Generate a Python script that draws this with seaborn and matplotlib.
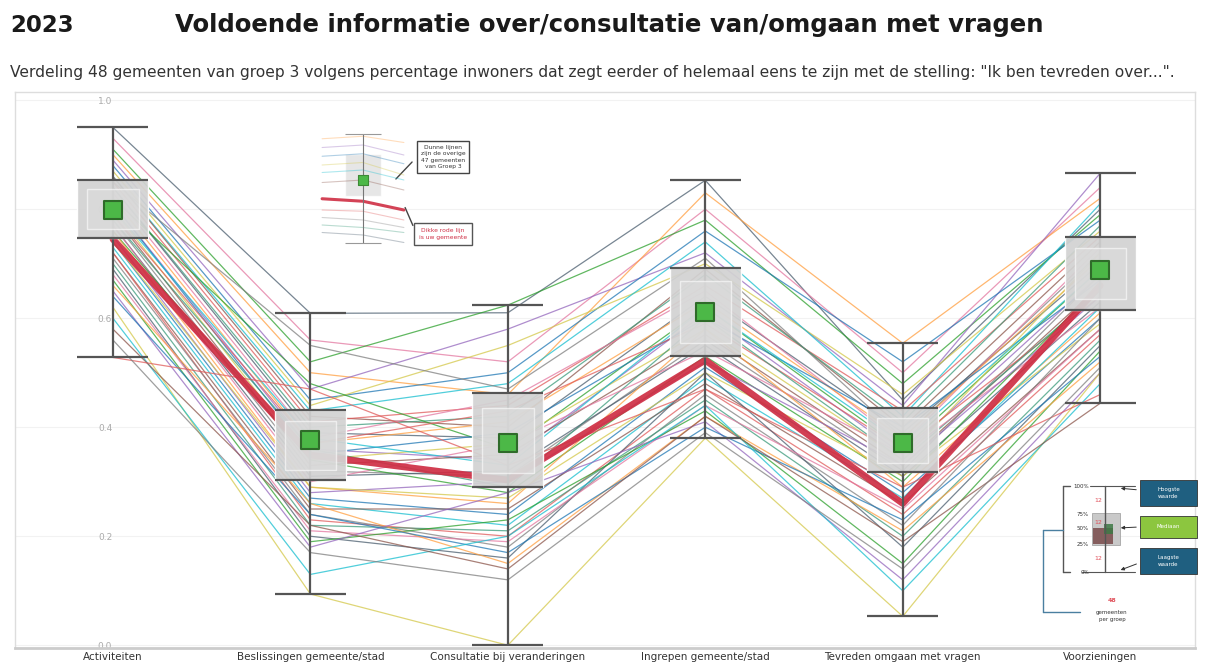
import numpy as np
import pandas as pd
import seaborn as sns
import matplotlib.pyplot as plt
from matplotlib.patches import Rectangle

# categorieen op de x-as
categorieen = ["Activiteiten", "Beslissingen gemeente/stad", "Consultatie bij veranderingen",
               "Ingrepen gemeente/stad", "Tevreden omgaan met vragen", "Voorzieningen"]

# dikke rode lijn (eigen gemeente)
eigen_gemeente = [0.745, 0.349, 0.303, 0.523, 0.26, 0.66]

# de overige 47 gemeenten van groep 3 (geschat uit de figuur)
overige = [
    [0.95, 0.609, 0.61, 0.853, 0.45, 0.80],
    [0.93, 0.56, 0.52, 0.80, 0.50, 0.84],
    [0.91, 0.52, 0.624, 0.78, 0.48, 0.79],
    [0.90, 0.50, 0.46, 0.83, 0.554, 0.82],
    [0.89, 0.47, 0.58, 0.72, 0.44, 0.866],
    [0.88, 0.45, 0.50, 0.76, 0.52, 0.78],
    [0.87, 0.44, 0.55, 0.70, 0.46, 0.76],
    [0.86, 0.43, 0.48, 0.74, 0.42, 0.81],
    [0.86, 0.42, 0.40, 0.69, 0.40, 0.74],
    [0.85, 0.41, 0.44, 0.66, 0.43, 0.75],
    [0.85, 0.55, 0.47, 0.71, 0.38, 0.72],
    [0.84, 0.40, 0.42, 0.68, 0.41, 0.77],
    [0.84, 0.39, 0.38, 0.64, 0.39, 0.70],
    [0.83, 0.38, 0.45, 0.65, 0.37, 0.73],
    [0.82, 0.48, 0.36, 0.62, 0.36, 0.69],
    [0.82, 0.37, 0.41, 0.63, 0.38, 0.71],
    [0.81, 0.36, 0.34, 0.61, 0.35, 0.68],
    [0.81, 0.35, 0.39, 0.60, 0.40, 0.67],
    [0.80, 0.34, 0.37, 0.58, 0.34, 0.72],
    [0.80, 0.38, 0.33, 0.62, 0.37, 0.69],
    [0.79, 0.33, 0.35, 0.57, 0.33, 0.66],
    [0.79, 0.37, 0.43, 0.59, 0.36, 0.64],
    [0.78, 0.32, 0.31, 0.56, 0.32, 0.68],
    [0.78, 0.36, 0.29, 0.60, 0.34, 0.65],
    [0.77, 0.31, 0.32, 0.55, 0.31, 0.63],
    [0.77, 0.30, 0.37, 0.54, 0.35, 0.62],
    [0.76, 0.34, 0.28, 0.53, 0.30, 0.66],
    [0.76, 0.29, 0.26, 0.58, 0.29, 0.61],
    [0.75, 0.28, 0.30, 0.52, 0.33, 0.64],
    [0.74, 0.27, 0.24, 0.51, 0.28, 0.60],
    [0.74, 0.29, 0.27, 0.50, 0.31, 0.59],
    [0.73, 0.26, 0.22, 0.49, 0.27, 0.62],
    [0.72, 0.25, 0.25, 0.48, 0.26, 0.58],
    [0.72, 0.23, 0.20, 0.47, 0.24, 0.57],
    [0.71, 0.24, 0.18, 0.46, 0.22, 0.60],
    [0.70, 0.22, 0.21, 0.45, 0.20, 0.56],
    [0.69, 0.20, 0.16, 0.50, 0.18, 0.55],
    [0.68, 0.21, 0.19, 0.44, 0.25, 0.58],
    [0.67, 0.19, 0.23, 0.43, 0.15, 0.54],
    [0.66, 0.26, 0.15, 0.42, 0.21, 0.52],
    [0.65, 0.18, 0.28, 0.41, 0.12, 0.50],
    [0.64, 0.24, 0.17, 0.40, 0.23, 0.53],
    [0.62, 0.094, 0.0, 0.38, 0.053, 0.50],
    [0.60, 0.13, 0.20, 0.44, 0.10, 0.48],
    [0.58, 0.22, 0.14, 0.42, 0.19, 0.444],
    [0.528, 0.47, 0.33, 0.47, 0.29, 0.46],
    [0.56, 0.17, 0.12, 0.39, 0.14, 0.51],
]

# box: 25%, 50%, 75% per categorie
kwartiel_laag = [0.747, 0.303, 0.29, 0.53, 0.317, 0.615]
mediaan = [0.798, 0.376, 0.371, 0.611, 0.371, 0.688]
kwartiel_hoog = [0.853, 0.431, 0.462, 0.692, 0.435, 0.749]

# kleine uitleg-figuur linksboven
inset_lijnen = [
    [0.93, 0.95, 0.90],
    [0.86, 0.88, 0.80],
    [0.79, 0.81, 0.73],
    [0.72, 0.74, 0.64],
    [0.66, 0.68, 0.60],
    [0.58, 0.60, 0.52],
    [0.36, 0.35, 0.28],
    [0.30, 0.28, 0.22],
    [0.24, 0.22, 0.18],
    [0.18, 0.16, 0.10],
]
inset_rood = [0.45, 0.43, 0.36]

kleuren_basis = ["#4a5d6e", "#e377a0", "#2ca02c", "#ff9f40", "#9467bd", "#1f77b4",
                 "#d4c84a", "#17becf", "#8c564b", "#e05a5a", "#7f7f7f", "#3a9a7a"]

sns.set_style("white")
plt.rcParams['font.family'] = ['DejaVu Sans']

# data in lang formaat
rijen = []
for i, waarden in enumerate(overige):
    for j, w in enumerate(waarden):
        rijen.append(("G%d" % (i + 1), j, w))
df = pd.DataFrame(rijen, columns=["gemeente", "pos", "waarde"])
kleuren = [kleuren_basis[i % len(kleuren_basis)] for i in range(len(overige))]

alle = np.array(overige + [eigen_gemeente])
minimum = alle.min(axis=0)
maximum = alle.max(axis=0)
pos = np.arange(len(categorieen))

fig = plt.figure(figsize=(12.1, 6.66), dpi=100)
ax = fig.add_axes([15 / 1210, (666 - 648) / 666, 1180 / 1210, 556 / 666])

sns.lineplot(data=df, x="pos", y="waarde", hue="gemeente", palette=kleuren, legend=False,
             estimator=None, sort=False, lw=0.9, alpha=0.75, ax=ax, zorder=2)
sns.lineplot(x=pos, y=eigen_gemeente, color="#cf2e44", lw=4.8, alpha=0.92, ax=ax, zorder=3)

# whiskers en boxen
ax.vlines(pos, minimum, maximum, color="#555555", lw=1.6, zorder=4)
ax.bar(pos, np.subtract(kwartiel_hoog, kwartiel_laag), bottom=kwartiel_laag, width=0.36,
       color="#d2d2d2", alpha=0.93, zorder=5)
ax.bar(pos, np.subtract(kwartiel_hoog, kwartiel_laag) * 0.7,
       bottom=np.add(kwartiel_laag, np.subtract(kwartiel_hoog, kwartiel_laag) * 0.15),
       width=0.26, color="#dddddd", alpha=0.6, zorder=5.1)
for arr in [minimum, maximum, kwartiel_laag, kwartiel_hoog]:
    ax.hlines(arr, pos - 0.18, pos + 0.18, color="#555555", lw=1.6, zorder=6)
sns.scatterplot(x=pos, y=mediaan, marker="s", s=160, color="#4cb847", edgecolor="#2f6b2a",
                linewidth=1.5, zorder=7, ax=ax)

ax.set_xlim(-0.496, 5.48)
ax.set_ylim(-0.005, 1.015)
ax.set_yticks(np.arange(0, 1.01, 0.2))
ax.set_yticklabels(["%.1f" % t for t in np.arange(0, 1.01, 0.2)])
ax.set_xticks(pos)
ax.set_xticklabels(categorieen)
ax.tick_params(axis="y", length=0, pad=-70, labelsize=6.5, labelcolor="#aaaaaa")
ax.tick_params(axis="x", length=0, pad=3, labelsize=7.5, labelcolor="#333333")
ax.set_xlabel("")
ax.set_ylabel("")
ax.yaxis.grid(True, color="#f2f2f2", lw=0.8)
ax.set_axisbelow(True)
for s in ax.spines.values():
    s.set_color("#dddddd")
    s.set_linewidth(1)
ax.spines["bottom"].set_color("#cccccc")
ax.spines["bottom"].set_linewidth(2)

# titels
fig.text(10 / 1210, 1 - 25 / 666, "2023", fontsize=16.5, fontweight="heavy", va="center", color="#1a1a1a")
fig.text(175 / 1210, 1 - 25 / 666, "Voldoende informatie over/consultatie van/omgaan met vragen",
         fontsize=17.6, fontweight="heavy", va="center", color="#1a1a1a")
fig.text(10 / 1210, 1 - 72 / 666,
         "Verdeling 48 gemeenten van groep 3 volgens percentage inwoners dat zegt eerder of helemaal eens "
         "te zijn met de stelling: \"Ik ben tevreden over...\".",
         fontsize=11.2, va="center", color="#333333")

# uitleg-figuur linksboven
ins = fig.add_axes([318 / 1210, (666 - 255) / 666, 90 / 1210, 125 / 666])
for i, lijn in enumerate(inset_lijnen):
    sns.lineplot(x=[0, 1, 2], y=lijn, color=kleuren_basis[(i + 3) % 12], lw=0.8, alpha=0.35, ax=ins)
sns.lineplot(x=[0, 1, 2], y=inset_rood, color="#cf2e44", lw=2.2, alpha=0.9, ax=ins)
ins.vlines([1], [0.1], [0.97], color="#777777", lw=0.8)
ins.hlines([0.97, 0.1], 0.55, 1.45, color="#999999", lw=0.8)
ins.bar([1], [0.34], bottom=[0.47], width=0.9, color="#dedede", alpha=0.75)
sns.scatterplot(x=[1], y=[0.6], marker="s", s=55, color="#4cb847", edgecolor="#3d8a35",
                linewidth=0.8, ax=ins, zorder=5)
ins.set_xlim(-0.1, 2.1)
ins.set_ylim(0, 1)
ins.axis("off")

fig.text(443 / 1210, 1 - 157 / 666, "Dunne lijnen\nzijn de overige\n47 gemeenten\nvan Groep 3",
         ha="center", va="center", fontsize=4.3, linespacing=1.4, color="#333333",
         bbox=dict(boxstyle="square,pad=0.6", fc="white", ec="#444444", lw=1))
fig.text(443 / 1210, 1 - 234 / 666, "Dikke rode lijn\nis uw gemeente",
         ha="center", va="center", fontsize=4.3, linespacing=1.4, color="#cf2e44",
         bbox=dict(boxstyle="square,pad=0.8", fc="white", ec="#555555", lw=1))
ax.annotate("", xy=(394, 666 - 181), xytext=(414, 666 - 160), xycoords="figure pixels",
            textcoords="figure pixels", arrowprops=dict(arrowstyle="-", color="#444444", lw=1))
ax.annotate("", xy=(404, 666 - 205), xytext=(414, 666 - 228), xycoords="figure pixels",
            textcoords="figure pixels", arrowprops=dict(arrowstyle="-", color="#444444", lw=1))

# legenda rechtsonder
leg = fig.add_axes([1035 / 1210, (666 - 648) / 666, 170 / 1210, 173 / 666])
leg.set_xlim(1035, 1205)
leg.set_ylim(648, 475)
leg.axis("off")
lc = "#555555"
leg.plot([1105, 1105], [486, 572], color=lc, lw=1)
leg.plot([1063, 1063], [486, 572], color=lc, lw=1)
leg.plot([1063, 1070], [486, 486], color=lc, lw=1)
leg.plot([1063, 1070], [572, 572], color=lc, lw=1)
leg.plot([1090, 1135], [486, 486], color=lc, lw=0.8)
leg.plot([1082, 1135], [572, 572], color=lc, lw=0.8)
leg.plot([1043, 1063], [530, 530], color="#4a7fa0", lw=1)
leg.plot([1043, 1043], [530, 612], color="#4a7fa0", lw=1)
leg.plot([1043, 1080], [612, 612], color="#4a7fa0", lw=1)
leg.add_patch(Rectangle((1092, 513), 28, 32, fc="#c9c9c9", ec="#999999", lw=0.5))
leg.add_patch(Rectangle((1093, 528), 20, 16, fc="#7a4b4b", ec="none", alpha=0.85))
leg.add_patch(Rectangle((1104, 524), 9, 10, fc="#3d7a45", ec="none", alpha=0.85))
for lab, yy in [("100%", 486), ("75%", 514), ("50%", 529), ("25%", 544), ("0%", 572)]:
    leg.text(1089, yy, lab, fontsize=4, ha="right", va="center", color="#333333")
for yy in [500, 522, 558]:
    leg.text(1098, yy, "12", fontsize=4.5, ha="center", va="center", color="#e0505a")
leg.text(1112, 600, "48", fontsize=4.5, ha="center", va="center", color="#e0505a", fontweight="bold")
leg.text(1112, 616, "gemeenten\nper groep", fontsize=4, ha="center", va="center", color="#333333",
         linespacing=1.5)
boxen = [("Hoogste\nwaarde", 493, 26, "#1f5f80", 490, 488),
         ("Mediaan", 527, 22, "#8cc63f", 527, 528),
         ("Laagste\nwaarde", 561, 26, "#1f5f80", 563, 571)]
for tekst, yc, h, kleur, ya, yb in boxen:
    leg.add_patch(Rectangle((1140, yc - h / 2), 57, h, fc=kleur, ec="#333333", lw=0.6))
    leg.text(1168.5, yc, tekst, fontsize=4, ha="center", va="center", color="white", linespacing=1.4)
    leg.annotate("", xy=(1118, yb), xytext=(1139, ya),
                 arrowprops=dict(arrowstyle="-|>", color="#333333", lw=0.7, mutation_scale=5))

fig.savefig("out.png", dpi=100)
